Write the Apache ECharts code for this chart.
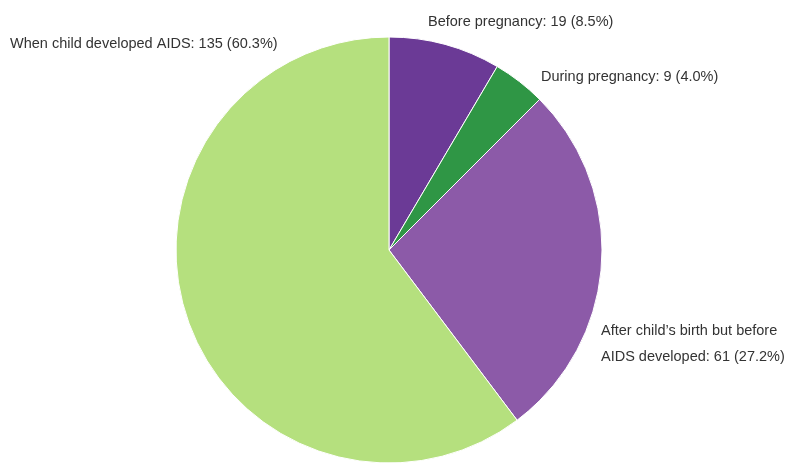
<!DOCTYPE html>
<html><head><meta charset="utf-8">
<script src="https://cdn.jsdelivr.net/npm/echarts@6/dist/echarts.min.js"></script>
<style>html,body{margin:0;padding:0;background:#fff}#c{width:789px;height:466px}</style>
</head><body><div id="c"></div>
<script>
const categories = ["Before pregnancy", "During pregnancy", "After child\u2019s birth but before\nAIDS developed", "When child developed AIDS"];
const values = [19, 9, 61, 135];
const percents = ["8.5%", "4.0%", "27.2%", "60.3%"];
const colors = ["#6b3a96", "#2f9645", "#8c5aa8", "#b5e07e"];
// label anchor positions (left-aligned, top of text)
const labelPos = [[428, 9], [541, 64], [601, 318], [10, 31]];

const chart = echarts.init(document.getElementById('c'));
chart.setOption({
  animation: false,
  series: [{
    type: 'pie',
    center: [389, 250],
    radius: 213,
    startAngle: 90,
    clockwise: true,
    data: categories.map((n, i) => ({ name: n, value: values[i], itemStyle: { color: colors[i] } })),
    itemStyle: { borderColor: '#ffffff', borderWidth: 1 },
    label: {
      show: true,
      position: 'outside',
      formatter: p => p.name + ': ' + p.value + ' (' + percents[p.dataIndex] + ')',
      color: '#333333',
      fontSize: 14.5,
      lineHeight: 26,
      overflow: 'none',
      width: 400,
      fontFamily: 'Liberation Sans, Arial, sans-serif'
    },
    labelLine: { show: false },
    labelLayout: p => ({ x: labelPos[p.dataIndex][0], y: labelPos[p.dataIndex][1], align: 'left', verticalAlign: 'top', moveOverlap: false })
  }]
});
</script></body></html>
